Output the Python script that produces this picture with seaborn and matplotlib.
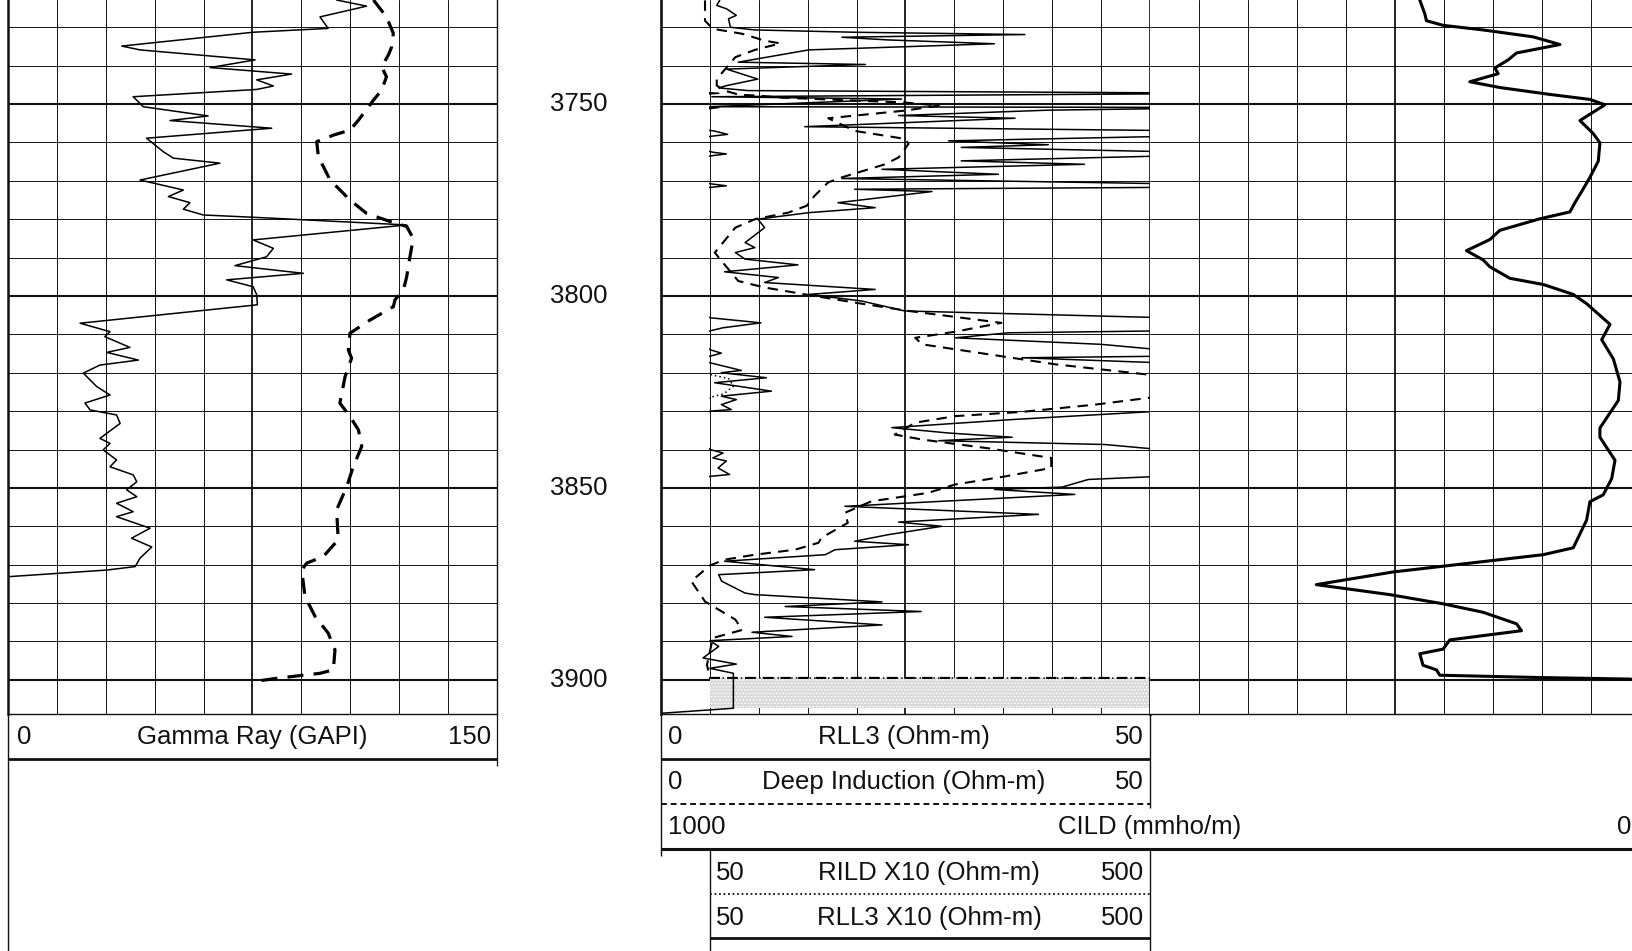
import numpy as np
import matplotlib
matplotlib.use('Agg')
import matplotlib.pyplot as plt
import seaborn as sns

# depth window of the print, ft
TOP, BASE = 3722.9, 3908.9
depth_labels = [3750, 3800, 3850, 3900]

# track 1: gamma ray (0-150 GAPI) and the heavy dashed curve on the same scale
gr_depth = [3722.9, 3724.5, 3727.3, 3730.3, 3731.3, 3734.9, 3735.9, 3738.5, 3740.5, 3742.2,
            3743.7, 3745.3, 3746.2, 3748.1, 3750.7, 3753.1, 3754.3, 3756.3, 3758.9, 3762.4,
            3764.1, 3765.4, 3769.8, 3772.4, 3774.1, 3775.7, 3777.4, 3778.9, 3779.5, 3781.5,
            3785.4, 3787.6, 3789.8, 3792.1, 3794.1, 3795.8, 3797.6, 3799.7, 3802.3, 3807.1,
            3809.3, 3810.6, 3813.4, 3814.7, 3816.7, 3818.0, 3820.1, 3823.6, 3825.8, 3827.9,
            3829.7, 3831.0, 3833.2, 3837.1, 3838.4, 3840.1, 3842.7, 3844.5, 3846.6, 3848.4,
            3850.5, 3852.3, 3854.0, 3856.2, 3857.5, 3860.5, 3863.1, 3865.4, 3868.3, 3870.5,
            3871.4, 3873.1]
gr_api = [100.8, 110.0, 95.7, 98.2, 75.2, 34.9, 40.5, 75.8, 62.0, 87.0,
          76.3, 81.4, 76.3, 38.4, 41.5, 61.4, 49.7, 80.9, 42.5, 47.6,
          50.7, 65.0, 40.5, 53.8, 49.2, 55.8, 53.8, 59.9, 75.2, 122.3,
          75.2, 81.4, 79.3, 69.6, 90.6, 67.1, 75.2, 76.3, 76.5, 22.1,
          31.3, 29.7, 37.4, 30.3, 40.0, 28.2, 23.1, 27.2, 31.3, 23.6,
          25.2, 33.3, 34.4, 28.2, 31.3, 29.2, 33.3, 31.3, 38.4, 39.5,
          36.4, 39.5, 33.3, 38.4, 33.3, 43.6, 37.9, 44.1, 40.5, 39.0,
          30.3, 0.6]

dash_depth = [3722.9, 3727.3, 3731.6, 3735.1, 3737.2, 3740.3, 3742.9, 3746.4, 3749.0, 3754.2,
              3756.8, 3758.1, 3759.8, 3763.7, 3769.8, 3775.0, 3778.5, 3780.6, 3781.9, 3785.0,
              3789.8, 3795.0, 3798.4, 3801.0, 3802.8, 3806.3, 3809.7, 3814.1, 3816.2, 3821.0,
              3827.9, 3831.4, 3834.9, 3839.2, 3844.5, 3849.7, 3855.7, 3863.5, 3867.9, 3869.6,
              3871.4, 3878.3, 3883.5, 3887.8, 3892.2, 3897.4, 3898.3, 3899.6, 3900.4]
dash_val = [112.1, 116.1, 118.2, 117.7, 116.7, 114.6, 116.1, 114.6, 112.1, 107.5,
            104.9, 99.8, 94.7, 95.2, 98.8, 104.9, 110.0, 117.2, 122.3, 124.3,
            123.3, 122.3, 121.3, 118.7, 118.2, 111.0, 104.9, 104.4, 105.4, 103.4,
            101.8, 104.9, 107.5, 108.5, 105.9, 103.9, 100.8, 101.3, 96.7, 91.6,
            90.1, 91.1, 94.2, 98.2, 100.3, 99.8, 95.7, 82.4, 75.8]

# track 2: RLL3 and deep induction, 0-50 ohm-m (x10 backups 50-500 use the same data)
rll3_depth = [3723.0, 3724.3, 3725.2, 3726.9, 3727.8, 3730.0, 3730.7, 3731.3, 3731.9, 3732.6,
              3733.3, 3734.3, 3735.9, 3739.1, 3739.7, 3740.9, 3743.5, 3745.2, 3745.8, 3746.5,
              3747.2, 3748.1, 3748.7, 3750.7, 3750.9, 3751.6, 3753.0, 3753.7, 3755.9, 3757.0,
              3757.9, 3758.4, 3759.6, 3760.6, 3761.3, 3762.6, 3763.0, 3763.5, 3764.8, 3765.7,
              3767.0, 3768.3, 3769.4, 3770.9, 3771.3, 3771.7, 3772.2, 3772.8, 3775.7, 3777.0,
              3778.3, 3780.0, 3782.2, 3786.1, 3787.4, 3788.7, 3790.4, 3791.9, 3793.7, 3795.2,
              3796.5, 3798.3, 3799.6, 3801.3, 3803.9, 3805.7, 3807.0, 3808.3, 3809.1, 3809.6,
              3810.9, 3812.6, 3814.0, 3814.9, 3815.7, 3816.1, 3817.4, 3819.4, 3820.0, 3821.3,
              3822.6, 3824.8, 3826.1, 3827.0, 3828.3, 3829.6, 3830.0, 3832.2, 3834.3, 3835.7,
              3836.8, 3837.7, 3838.7, 3840.0, 3840.9, 3842.2, 3843.0, 3844.8, 3846.5, 3847.0,
              3847.8, 3849.8, 3850.4, 3851.7, 3854.8, 3856.9, 3858.9, 3860.0, 3862.2, 3863.9,
              3864.8, 3866.1, 3867.4, 3869.1, 3871.3, 3872.6, 3874.3, 3877.4, 3877.8, 3879.7,
              3880.9, 3882.2, 3883.7, 3885.7, 3887.6, 3888.7, 3889.8, 3891.3, 3894.3, 3895.9,
              3897.0, 3898.3, 3907.4, 3908.7]
rll3_ohmm = [6.0, 5.7, 6.7, 7.7, 6.9, 7.1, 9.6, 19.8, 37.2, 18.5,
             23.2, 34.1, 15.1, 7.9, 20.9, 6.7, 9.9, 6.7, 5.9, 8.9,
             60.0, 5.2, 24.6, 5.0, 60.0, 39.6, 24.3, 36.2, 14.7, 55.0,
             69.0, 52.0, 29.4, 39.6, 30.7, 55.0, 67.7, 52.0, 30.7, 43.3,
             22.6, 34.5, 18.5, 55.0, 67.7, 52.0, 19.8, 27.7, 18.1, 21.9,
             15.1, 9.9, 10.6, 8.6, 9.6, 7.6, 8.6, 14.0, 6.5, 12.0,
             10.6, 21.9, 15.1, 20.5, 24.9, 52.0, 103.0, 64.0, 51.0, 35.5,
             30.1, 45.0, 51.0, 62.6, 51.0, 36.9, 51.0, 83.0, 62.6, 108.5,
             55.8, 113.7, 62.6, 77.9, 62.6, 72.8, 51.0, 35.9, 23.6, 29.4,
             35.9, 28.4, 45.4, 51.0, 64.3, 54.0, 67.7, 59.2, 71.0, 51.0,
             43.7, 41.0, 34.1, 42.3, 18.8, 38.6, 24.3, 28.7, 23.2, 19.8,
             25.3, 17.8, 16.8, 6.5, 15.7, 5.9, 6.2, 8.6, 9.6, 22.6,
             12.7, 26.6, 10.6, 22.6, 9.3, 13.4, 5.0, 5.9, 4.3, 7.7,
             5.0, 7.4, 7.4, 0.1]

ild_depth = [3723.0, 3728.3, 3730.4, 3731.7, 3733.5, 3734.2, 3735.9, 3737.8, 3743.5, 3745.2,
             3746.5, 3747.6, 3747.8, 3748.3, 3749.6, 3750.4, 3751.7, 3753.7, 3757.0, 3759.1,
             3760.4, 3763.9, 3765.7, 3769.1, 3770.4, 3773.9, 3776.5, 3778.3, 3780.0, 3782.2,
             3788.7, 3790.9, 3796.1, 3797.8, 3800.0, 3802.0, 3803.9, 3807.0, 3809.3, 3810.9,
             3812.6, 3815.2, 3816.5, 3817.8, 3820.4, 3821.5, 3823.5, 3825.5, 3826.5, 3828.3,
             3830.2, 3831.3, 3833.0, 3836.1, 3837.4, 3839.7, 3842.2, 3844.8, 3847.0, 3849.1,
             3851.3, 3853.5, 3856.5, 3859.1, 3863.0, 3864.3, 3866.1, 3867.4, 3868.7, 3870.2,
             3874.3, 3879.6, 3884.3, 3887.0, 3889.1, 3896.1, 3899.5, 3899.6, 3908.9]
ild_ohmm = [4.5, 4.5, 5.3, 8.3, 10.6, 12.2, 9.6, 7.6, 5.7, 5.7,
            6.5, 8.0, 10.0, 12.0, 24.9, 28.4, 25.0, 17.1, 19.8, 25.0,
            25.3, 24.3, 22.9, 18.5, 17.1, 15.7, 14.9, 13.0, 9.6, 7.6,
            5.5, 6.2, 7.9, 10.6, 15.7, 20.5, 25.3, 34.8, 30.1, 26.0,
            26.7, 33.5, 36.9, 40.3, 49.5, 70.0, 75.0, 65.0, 50.0, 44.4,
            36.9, 30.1, 26.0, 23.9, 26.7, 33.5, 39.9, 39.9, 35.2, 30.1,
            27.3, 21.5, 18.8, 19.1, 16.4, 16.1, 13.7, 9.6, 6.5, 5.0,
            3.1, 4.5, 7.6, 8.3, 5.3, 4.7, 5.0, 1000.0, 1000.0]

# track 3: CILD, 1000-0 mmho/m across tracks 2+3, so this track holds 500-0
cild_depth = [3722.9, 3726.5, 3728.3, 3729.5, 3730.7, 3732.5, 3734.5, 3736.7, 3738.5, 3740.6,
              3742.1, 3744.2, 3745.7, 3747.5, 3748.8, 3750.2, 3754.3, 3757.7, 3760.1, 3764.9,
              3769.1, 3772.1, 3775.7, 3778.1, 3779.9, 3782.9, 3785.3, 3788.2, 3790.6, 3792.4,
              3795.4, 3797.0, 3799.6, 3802.0, 3807.4, 3811.4, 3816.4, 3822.4, 3827.2, 3834.4,
              3836.8, 3842.8, 3847.6, 3851.8, 3853.6, 3858.4, 3865.6, 3867.4, 3869.2, 3871.9,
              3875.2, 3877.8, 3880.2, 3882.4, 3885.4, 3887.2, 3889.6, 3892.0, 3893.2, 3896.2,
              3897.4, 3898.8, 3899.4, 3899.8, 3900.2]
cild_mmho = [224.7, 219.6, 217.9, 200.9, 160.1, 109.0, 81.7, 126.0, 134.5, 148.1,
             144.7, 173.7, 143.0, 91.9, 51.1, 35.8, 61.3, 47.7, 40.9, 42.6,
             51.1, 57.9, 66.4, 71.5, 102.2, 143.0, 153.2, 177.1, 160.1, 153.2,
             132.8, 98.8, 68.1, 54.5, 30.6, 39.1, 27.2, 20.4, 22.1, 40.9,
             40.9, 25.5, 28.9, 37.5, 51.1, 54.5, 68.1, 98.8, 160.1, 252.0,
             330.3, 255.4, 200.9, 160.1, 126.0, 120.9, 194.1, 200.9, 224.7, 221.4,
             207.7, 204.3, 102.2, 10.2, 2.0]

# shaded interval below TD
td_interval = [3899.6, 3907.4]

W, H = 1633, 951
INK = '#111111'
FS = 18.5
TRACK_BOTTOM = 714

sns.set_style('white')
plt.rcParams['font.family'] = ['Liberation Sans', 'DejaVu Sans']
plt.rcParams['hatch.linewidth'] = 0.7
plt.rcParams['hatch.color'] = '#7a7a7a'

fig = plt.figure(figsize=(W / 100, H / 100), dpi=100)


def box(x0, x1, y0, y1):
    return fig.add_axes([x0 / W, 1 - y1 / H, (x1 - x0) / W, (y1 - y0) / H])


def track(x0, x1, lo, hi, lw_left, lw_right):
    ax = box(x0, x1, 0, TRACK_BOTTOM)
    ax.set_facecolor('white')
    for i, v in enumerate(np.linspace(lo, hi, 11)[1:-1]):
        ax.axvline(v, color=INK, lw=1.3 if i == 4 else 0.7, zorder=1)
    for d in range(3730, 3910, 10):
        ax.axhline(d, color=INK, lw=1.5 if d % 50 == 0 else 0.7, zorder=1)
    ax.set_xticks([])
    ax.set_yticks([])
    ax.spines['top'].set_visible(False)
    ax.spines['left'].set_linewidth(lw_left)
    ax.spines['right'].set_linewidth(lw_right)
    ax.spines['bottom'].set_linewidth(1.0)
    for s in ax.spines.values():
        s.set_color(INK)
    if lw_left == 0:
        ax.spines['left'].set_visible(False)
    return ax


def curve(ax, x, y, lw, dashes=None):
    sns.lineplot(x=x, y=y, sort=False, estimator=None, color='black', lw=lw, ax=ax)
    line = ax.lines[-1]
    if dashes:
        line.set_dashes(dashes)
    line.set_zorder(3)


ax_gr = track(8, 497, 0, 150, 1.8, 1.0)
curve(ax_gr, gr_api, gr_depth, 1.1)
curve(ax_gr, dash_val, dash_depth, 2.3, dashes=(5, 3.2))

ax_res = track(661, 1150, 0, 50, 1.9, 1.9)
ax_res.fill_betweenx(td_interval, 5, 50, facecolor='#d9d9d9', hatch='.....', lw=0, zorder=2)
curve(ax_res, rll3_ohmm, rll3_depth, 1.1)
curve(ax_res, ild_ohmm, ild_depth, 1.5, dashes=(5, 3.5))

ax_x10 = box(709, 1150, 0, TRACK_BOTTOM)
ax_x10.set_facecolor('none')
ax_x10.axis('off')
curve(ax_x10, rll3_ohmm, rll3_depth, 1.1)
curve(ax_x10, ild_ohmm, ild_depth, 1.1, dashes=(1, 2))

ax_cild = track(1150, 1640, 500, 0, 0, 1.0)
curve(ax_cild, cild_mmho, cild_depth, 2.2)

for ax, lims in [(ax_gr, (0, 150)), (ax_res, (0, 50)), (ax_x10, (50, 500)), (ax_cild, (500, 0))]:
    ax.set_xlim(*lims)
    ax.set_ylim(BASE, TOP)
    ax.set_xlabel('')
    ax.set_ylabel('')

ax_dep = box(497, 661, 0, TRACK_BOTTOM)
ax_dep.set_ylim(BASE, TOP)
ax_dep.axis('off')
for d in depth_labels:
    ax_dep.text(0.5, d, str(d), transform=ax_dep.get_yaxis_transform(),
                ha='center', va='center', fontsize=FS, color=INK)

# header block under the tracks, drawn in pixel units
hd = fig.add_axes([0, 0, 1, 1], facecolor='none')
hd.set_xlim(0, W)
hd.set_ylim(H, 0)
hd.axis('off')


def seg(x0, y0, x1, y1, lw, dashes=None):
    ln, = hd.plot([x0, x1], [y0, y1], color=INK, lw=lw, solid_capstyle='butt')
    if dashes:
        ln.set_dashes(dashes)


def row(y, x_left, x_mid, x_right, left, mid, right):
    hd.text(x_left, y, left, ha='left', va='center', fontsize=FS, color=INK)
    hd.text(x_mid, y, mid, ha='center', va='center', fontsize=FS, color=INK)
    hd.text(x_right, y, right, ha='right', va='center', fontsize=FS, color=INK)


seg(8, TRACK_BOTTOM, 8, H, 1.0)
seg(497, TRACK_BOTTOM, 497, 766, 0.9)
row(737, 17, 252, 491, '0', 'Gamma Ray (GAPI)', '150')
seg(8, 759, 497, 759, 2.0)

seg(661, TRACK_BOTTOM, 661, 856, 1.0)
seg(1150, TRACK_BOTTOM, 1150, 808, 1.0)
row(737, 668, 904, 1144, '0', 'RLL3 (Ohm-m)', '50')
seg(661, 759, 1150, 759, 2.0)
row(782, 668, 904, 1144, '0', 'Deep Induction (Ohm-m)', '50')
seg(661, 804, 1150, 804, 1.4, dashes=(3, 2))
row(827, 668, 1150, 1631, '1000', 'CILD (mmho/m)', '0')
seg(661, 849, W, 849, 2.2)

seg(710, 849, 710, H, 1.0)
seg(1150, 849, 1150, H, 1.0)
row(873, 716, 929, 1144, '50', 'RILD X10 (Ohm-m)', '500')
seg(710, 894, 1150, 894, 1.3, dashes=(1, 1.5))
row(918, 716, 929, 1144, '50', 'RLL3 X10 (Ohm-m)', '500')
seg(710, 938, 1150, 938, 2.0)

fig.savefig('out.png', dpi=100, facecolor='white')
